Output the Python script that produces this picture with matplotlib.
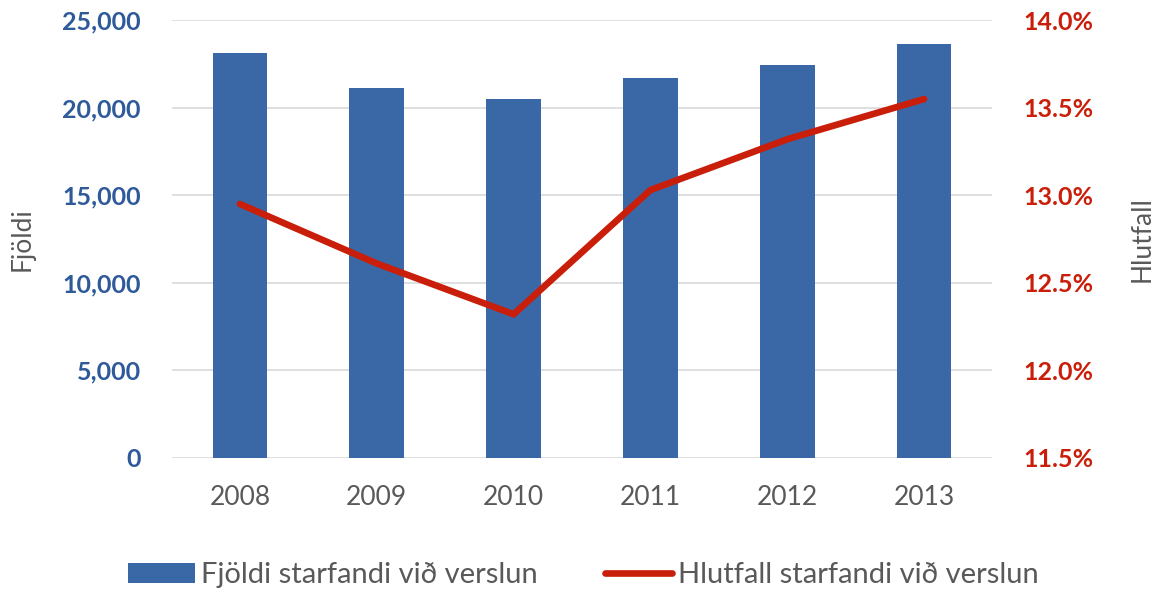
import matplotlib
matplotlib.use("Agg")
import matplotlib.pyplot as plt
from matplotlib.ticker import FuncFormatter, MultipleLocator

plt.rcParams['font.family'] = ['Lato', 'DejaVu Sans']

years = ["2008", "2009", "2010", "2011", "2012", "2013"]
fjoldi = [23150, 21110, 20520, 21700, 22450, 23630]
hlutfall = [12.95, 12.61, 12.32, 13.03, 13.32, 13.55]

blue = "#3A68A6"
red = "#C81E0A"
gray = "#595959"

fig = plt.figure(figsize=(11.55, 5.9), dpi=100)
ax = fig.add_axes([0.1485, 0.2242, 0.7108, 0.7414])
ax2 = ax.twinx()

x = range(len(years))
bars = ax.bar(x, fjoldi, width=0.4, color=blue, zorder=2,
              label="Fjöldi starfandi við verslun")
line, = ax2.plot(x, hlutfall, color=red, linewidth=4.8, solid_capstyle="round",
                 solid_joinstyle="miter", zorder=3,
                 label="Hlutfall starfandi við verslun")

ax.set_xlim(-0.5, len(years) - 0.5)
ax.set_ylim(0, 25000)
ax2.set_ylim(11.5, 14.0)
ax.yaxis.set_major_locator(MultipleLocator(5000))
ax2.yaxis.set_major_locator(MultipleLocator(0.5))
ax.yaxis.set_major_formatter(FuncFormatter(lambda v, p: f"{v:,.0f}"))
ax2.yaxis.set_major_formatter(FuncFormatter(lambda v, p: f"{v:.1f}%"))

ax.grid(axis="y", color="#D9D9D9", linewidth=1.2, zorder=0)
ax.set_axisbelow(True)
for a in (ax, ax2):
    for s in a.spines.values():
        s.set_visible(False)

ax.set_xticks(list(x))
ax.set_xticklabels(years)
ax.tick_params(axis="x", length=0, pad=20, labelsize=19, labelcolor=gray)
ax.tick_params(axis="y", length=0, pad=22, labelsize=18, labelcolor="#2E5A9A")
ax2.tick_params(axis="y", length=0, pad=22, labelsize=18, labelcolor=red)
for lab in ax.get_yticklabels() + ax2.get_yticklabels():
    lab.set_fontweight("bold")

ax.set_ylabel("Fjöldi", fontsize=19, color=gray, labelpad=20)
ax2.set_ylabel("Hlutfall", fontsize=19, color=gray, labelpad=26)

fig.legend([bars, line], [bars.get_label(), line.get_label()],
           loc="center", bbox_to_anchor=(0.505, 0.025), ncol=2, frameon=False,
           fontsize=21, labelcolor=gray, handlelength=2.3, handletextpad=0.2,
           columnspacing=2.3)

fig.savefig("out.png", dpi=100)
